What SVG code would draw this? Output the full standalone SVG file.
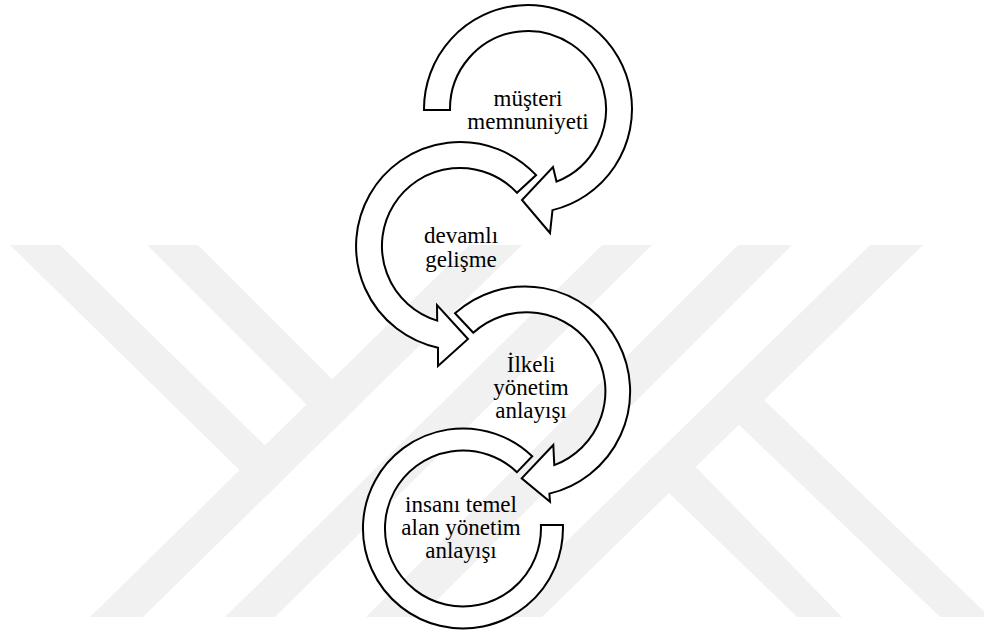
<svg xmlns="http://www.w3.org/2000/svg" width="984" height="632" viewBox="0 0 984 632">
<style>
.wm { fill: #f1f1f1; stroke: none; }
.arrow { fill: #ffffff; stroke: #000000; stroke-width: 2; stroke-linejoin: miter; }
.lbl { font-family: "Liberation Serif", "Times New Roman", serif; font-size: 23px; fill: #000000; text-anchor: middle; }
</style>
<rect x="0" y="0" width="984" height="632" fill="#ffffff"/>
<g id="watermark">
  <polygon class="wm" points="10,245 60,245 291,471 266,496"/>
  <polygon class="wm" points="147,245 198,245 358.5,405.5 332.8,430.8"/>
  <polygon class="wm" points="90,617 143,617 522,245 469,245"/>
  <polygon class="wm" points="225,617 275,617 652,245 602,245"/>
  <polygon class="wm" points="738,245 792,245 420,617 366,617"/>
  <polygon class="wm" points="870,245 923,245 542,617 489,617"/>
  <polygon class="wm" points="737.4,374.5 990,617 940,617 712.2,399.3"/>
  <polygon class="wm" points="670,440.4 842,617 797,617 642.5,467.3"/>
</g>
<g id="connectors"></g>
<g id="node1">
  <path class="arrow" d="M 450,110 L 424,110 A 104 104 0 1 1 552.5,210.1 L 550,233 L 522,200 L 553,167 L 556.5,181.6 A 78 78 0 1 0 450,110 Z"/>
  <text class="lbl" x="528" y="106">müşteri</text>
  <text class="lbl" x="528" y="129">memnuniyeti</text>
</g>
<g id="node2">
  <path class="arrow" d="M 517,192.8 L 536.1,175.1 A 104 104 0 1 0 438,347.7 L 438,366 L 468,339 L 437,305 L 437.2,320.6 A 78 78 0 1 1 517,192.8 Z"/>
  <text class="lbl" x="461" y="243">devamlı</text>
  <text class="lbl" x="461" y="267">gelişme</text>
</g>
<g id="node3">
  <path class="arrow" d="M 473.3,332.7 L 455,313.3 A 105 105 0 1 1 549.4,493.6 L 550,501.7 L 521.7,478.3 L 553.3,445 L 554.3,465.1 A 79 79 0 1 0 473.3,332.7 Z"/>
  <text class="lbl" x="531" y="372">İlkeli</text>
  <text class="lbl" x="531" y="395">yönetim</text>
  <text class="lbl" x="531" y="418">anlayışı</text>
</g>
<g id="node4">
  <path class="arrow" d="M 540.9,525 L 562.9,525 A 100 100 0 1 1 532.2,456.3 L 517,472.2 A 78 78 0 1 0 540.9,525 Z"/>
  <text class="lbl" x="461" y="512">insanı temel</text>
  <text class="lbl" x="461" y="535">alan yönetim</text>
  <text class="lbl" x="461" y="558">anlayışı</text>
</g>
</svg>
